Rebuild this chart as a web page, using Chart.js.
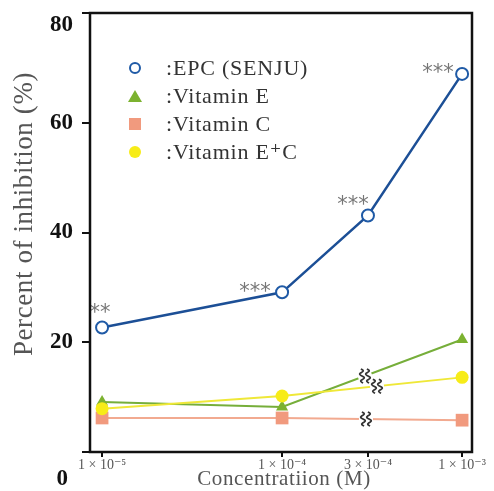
<!DOCTYPE html>
<html>
<head>
<meta charset="utf-8">
<script src="https://cdn.jsdelivr.net/npm/chart.js@4.4.1/dist/chart.umd.min.js"></script>
<style>
  html, body { margin: 0; padding: 0; background: #fff; }
</style>
</head>
<body>
<canvas id="inhibitionChart" width="494" height="491"></canvas>
<script>
// concentrations (M)
const concAll = [1e-5, 1e-4, 3e-4, 1e-3];
const concVit = [1e-5, 1e-4, 1e-3];
const xTickLabels = ['1 × 10⁻⁵', '1 × 10⁻⁴', '3 × 10⁻⁴', '1 × 10⁻³'];
const yTickValues = [0, 20, 40, 60, 80];

const seriesNames = [':EPC (SENJU)', ':Vitamin E', ':Vitamin C', ':Vitamin E⁺C'];
const epcValues = [22.7, 29.1, 43.1, 68.9];
const vitEValues = [9.1, 8.2, 20.5];
const vitCValues = [6.2, 6.2, 5.8];
const vitECValues = [7.9, 10.2, 13.6];
const epcMarks = ['**', '***', '***', '***'];

const SERIF = "'Liberation Serif', 'DejaVu Serif', serif";
const ctx = document.getElementById('inhibitionChart').getContext('2d');

function pts(xs, ys) {
    return xs.map((x, i) => ({ x: x, y: ys[i] }));
}

// little helper for the legend markers
function marker(c, style, x, y, fill, stroke) {
    c.save();
    c.fillStyle = fill;
    c.strokeStyle = stroke;
    c.lineWidth = 2;
    c.beginPath();
    if (style === 'circleOpen') {
        c.arc(x, y, 5, 0, Math.PI * 2);
        c.fillStyle = '#fff';
        c.fill();
        c.stroke();
    } else if (style === 'circle') {
        c.arc(x, y, 6, 0, Math.PI * 2);
        c.fill();
    } else if (style === 'triangle') {
        c.moveTo(x, y - 6);
        c.lineTo(x + 7, y + 6);
        c.lineTo(x - 7, y + 6);
        c.closePath();
        c.fill();
    } else {
        c.rect(x - 6, y - 6, 12, 12);
        c.fill();
    }
    c.restore();
}

// wavy double stroke used for the axis-break on the lines
function breakMark(c, x, y, p0, p1) {
    const ang = Math.atan2(p1.y - p0.y, p1.x - p0.x);
    c.save();
    c.translate(x, y);
    c.rotate(ang);
    c.fillStyle = '#fff';
    c.fillRect(-7, -4, 14, 8);
    c.rotate(-ang);
    c.strokeStyle = '#333';
    c.lineWidth = 1.7;
    [-3, 3].forEach(dx => {
        c.beginPath();
        for (let t = -7; t <= 7; t += 0.5) {
            const px = dx + Math.sin(t * 0.9) * 2 + t * 0.15;
            if (t === -7) c.moveTo(px, t); else c.lineTo(px, t);
        }
        c.stroke();
    });
    c.restore();
}

const extras = {
    id: 'extras',
    afterDatasetsDraw(chart) {
        const c = chart.ctx;
        const xs = chart.scales.x;

        // breaks near 3e-4 on the vitamin lines
        const offs = [-3, -2, 9];
        [1, 2, 3].forEach((di, k) => {
            const meta = chart.getDatasetMeta(di);
            const p0 = meta.data[1], p1 = meta.data[2];
            const bx = xs.getPixelForValue(3e-4) + offs[k];
            const t = (bx - p0.x) / (p1.x - p0.x);
            const by = p0.y + t * (p1.y - p0.y);
            breakMark(c, bx, by, p0, p1);
        });

        // significance marks on EPC
        const meta = chart.getDatasetMeta(0);
        const shift = [[-2, -19], [-27, -5], [-15, -15], [-24, -5]];
        c.save();
        c.fillStyle = '#777';
        c.font = "21px 'DejaVu Sans', sans-serif";
        c.textAlign = 'center';
        c.textBaseline = 'middle';
        meta.data.forEach((p, i) => {
            c.fillText(epcMarks[i], p.x + shift[i][0], p.y + shift[i][1] + 5);
        });
        c.restore();
    },
    afterDraw(chart) {
        const c = chart.ctx;
        const a = chart.chartArea;

        // frame
        c.save();
        c.strokeStyle = '#111';
        c.lineWidth = 2.5;
        c.strokeRect(a.left, a.top, a.right - a.left, a.bottom - a.top);
        c.restore();

        // end labels of the y axis, set off from the frame
        c.save();
        c.fillStyle = '#111';
        c.font = 'bold 23px ' + SERIF;
        c.textAlign = 'right';
        c.textBaseline = 'middle';
        c.fillText(String(yTickValues[4]), 73, 25);
        c.fillText(String(yTickValues[0]), 68, 479);
        c.restore();

        // axis titles
        c.save();
        c.fillStyle = '#555';
        c.textAlign = 'center';
        c.textBaseline = 'middle';
        c.letterSpacing = '0.6px';
        c.font = '21px ' + SERIF;
        c.fillText('Concentratiion (M)', 284, 479);
        c.font = '27px ' + SERIF;
        c.translate(25, 214);
        c.rotate(-Math.PI / 2);
        c.fillText('Percent of inhibition (%)', 0, 0);
        c.restore();

        // legend
        const styles = [
            ['circleOpen', '#fff', '#1f5aa6'],
            ['triangle', '#7cb230', '#7cb230'],
            ['rect', '#f19a7e', '#f19a7e'],
            ['circle', '#f7ec18', '#f7ec18']
        ];
        c.save();
        c.font = '22px ' + SERIF;
        c.letterSpacing = '0.8px';
        c.fillStyle = '#333';
        c.textBaseline = 'middle';
        seriesNames.forEach((name, i) => {
            const y = 68 + i * 28;
            marker(c, styles[i][0], 135, y, styles[i][1], styles[i][2]);
            c.fillText(name, 166, y + 1);
        });
        c.restore();
    }
};

new Chart(ctx, {
    type: 'line',
    data: {
        datasets: [{
            label: seriesNames[0],
            data: pts(concAll, epcValues),
            order: 0,
            borderColor: '#1c4f96',
            borderWidth: 2.5,
            pointStyle: 'circle',
            pointRadius: 6,
            pointBorderWidth: 2,
            pointBackgroundColor: '#fff',
            pointBorderColor: '#1f5aa6'
        }, {
            label: seriesNames[1],
            data: pts(concVit, vitEValues),
            order: 2,
            borderColor: '#76ae3a',
            borderWidth: 2,
            pointStyle: 'triangle',
            pointRadius: 7,
            pointBorderWidth: 0,
            pointBackgroundColor: '#7cb230'
        }, {
            label: seriesNames[2],
            data: pts(concVit, vitCValues),
            order: 3,
            borderColor: '#f2aa90',
            borderWidth: 2,
            pointStyle: 'rect',
            pointRadius: 9,
            pointBorderWidth: 0,
            pointBackgroundColor: '#f19a7e'
        }, {
            label: seriesNames[3],
            data: pts(concVit, vitECValues),
            order: 1,
            borderColor: '#efe838',
            borderWidth: 2,
            pointStyle: 'circle',
            pointRadius: 6.5,
            pointBorderWidth: 0,
            pointBackgroundColor: '#f7ec18'
        }]
    },
    options: {
        responsive: false,
        devicePixelRatio: 1,
        animation: false,
        layout: { padding: { top: 13, right: 22, left: 0, bottom: 0 } },
        plugins: {
            legend: { display: false },
            tooltip: { enabled: false }
        },
        scales: {
            x: {
                type: 'logarithmic',
                min: 8.57e-6,
                max: 1.135e-3,
                afterBuildTicks: axis => { axis.ticks = concAll.map(v => ({ value: v })); },
                afterFit: axis => { axis.height = 39; axis.paddingLeft = 0; axis.paddingRight = 0; },
                border: { display: false },
                grid: { drawOnChartArea: false, drawTicks: true, tickLength: 5, color: '#111', lineWidth: 2 },
                ticks: {
                    autoSkip: false,
                    maxRotation: 0,
                    padding: 0,
                    color: '#555',
                    font: { family: SERIF, size: 14 },
                    callback: (v, i) => xTickLabels[i]
                }
            },
            y: {
                min: 0,
                max: 80,
                afterBuildTicks: axis => { axis.ticks = yTickValues.map(v => ({ value: v })); },
                afterFit: axis => { axis.width = 90; axis.paddingTop = 0; axis.paddingBottom = 0; },
                border: { display: false },
                grid: { drawOnChartArea: false, drawTicks: true, tickLength: 8, color: '#111', lineWidth: 2 },
                ticks: {
                    padding: 9,
                    color: '#111',
                    font: { family: SERIF, size: 23, weight: 'bold' },
                    callback: v => (v === yTickValues[0] || v === yTickValues[4]) ? '' : v
                }
            }
        }
    },
    plugins: [extras]
});
</script>
</body>
</html>
